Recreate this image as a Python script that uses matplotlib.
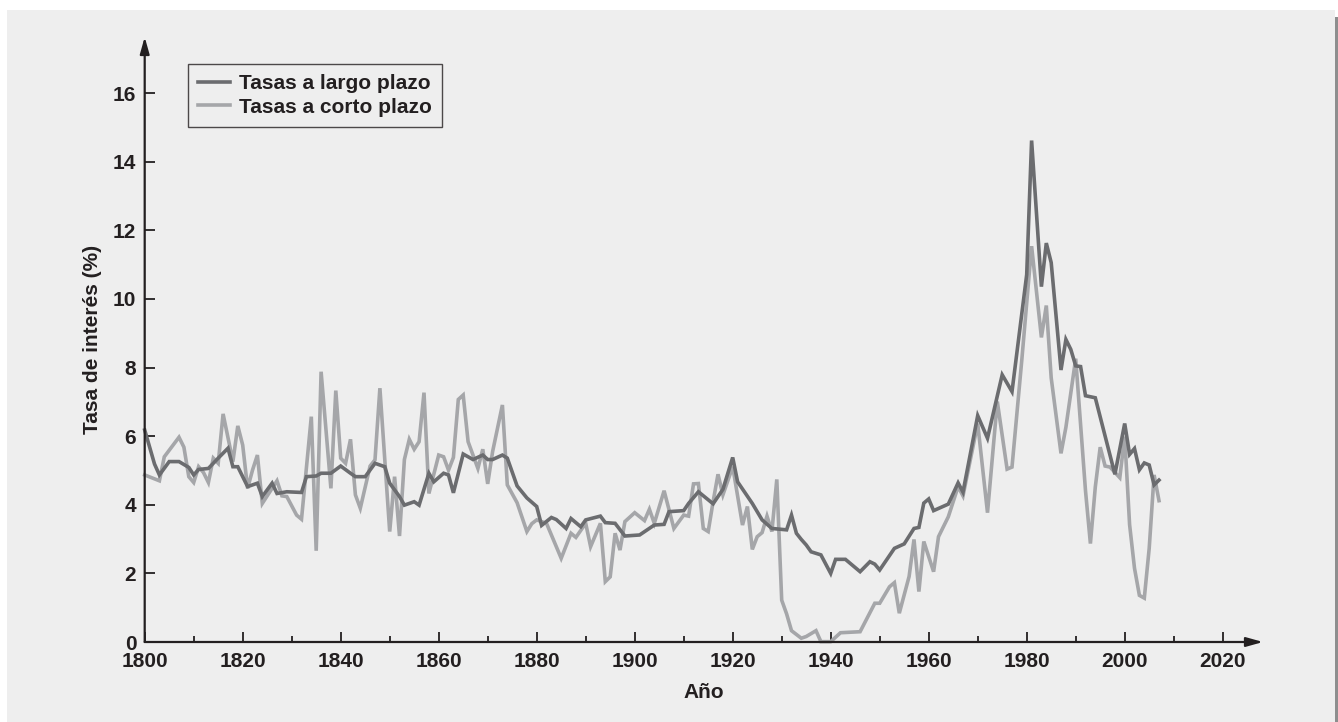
import matplotlib
matplotlib.use('Agg')
import matplotlib.pyplot as plt
from matplotlib.patches import Rectangle

# data (annual, %)
long_years = [1800, 1802, 1803, 1805, 1807, 1809, 1810, 1811, 1813, 1815, 1817, 1818, 1819,
              1821, 1823, 1824, 1826, 1827, 1829, 1832, 1833, 1835, 1836, 1838, 1840, 1842,
              1843, 1845, 1847, 1849, 1850, 1852, 1853, 1855, 1856, 1858, 1859, 1861, 1862,
              1863, 1865, 1867, 1869, 1870, 1871, 1873, 1874, 1876, 1878, 1880, 1881, 1883,
              1884, 1886, 1887, 1889, 1890, 1893, 1894, 1896, 1898, 1901, 1904, 1906, 1907,
              1910, 1911, 1913, 1916, 1918, 1920, 1921, 1924, 1926, 1928, 1931, 1932, 1933,
              1934, 1935, 1936, 1938, 1940, 1941, 1943, 1946, 1948, 1949, 1950, 1953, 1955,
              1957, 1958, 1959, 1960, 1961, 1964, 1966, 1967, 1970, 1972, 1975, 1977, 1980,
              1981, 1983, 1984, 1985, 1987, 1988, 1989, 1990, 1991, 1992, 1994, 1998, 2000,
              2001, 2002, 2003, 2004, 2005, 2006, 2007]
long_rates = [6.18, 5.19, 4.87, 5.26, 5.26, 5.09, 4.87, 5.03, 5.06, 5.36, 5.65, 5.11, 5.11,
              4.53, 4.63, 4.24, 4.63, 4.33, 4.38, 4.36, 4.82, 4.84, 4.92, 4.92, 5.13, 4.92,
              4.82, 4.82, 5.21, 5.11, 4.63, 4.24, 3.99, 4.09, 3.99, 4.92, 4.67, 4.92, 4.87,
              4.35, 5.48, 5.32, 5.45, 5.32, 5.32, 5.45, 5.36, 4.55, 4.20, 3.95, 3.40, 3.63,
              3.57, 3.31, 3.60, 3.36, 3.56, 3.67, 3.48, 3.46, 3.09, 3.12, 3.41, 3.43, 3.80,
              3.83, 4.04, 4.38, 4.03, 4.45, 5.38, 4.67, 4.04, 3.56, 3.31, 3.27, 3.70, 3.17,
              2.99, 2.83, 2.63, 2.54, 2.00, 2.41, 2.41, 2.05, 2.34, 2.27, 2.10, 2.73, 2.86,
              3.31, 3.34, 4.05, 4.17, 3.83, 4.02, 4.64, 4.37, 6.60, 5.94, 7.79, 7.30, 10.71,
              14.62, 10.36, 11.63, 11.06, 7.93, 8.82, 8.53, 8.05, 8.03, 7.18, 7.12, 4.89, 6.37,
              5.47, 5.64, 5.02, 5.22, 5.16, 4.58, 4.72]

short_years = [1800, 1803, 1804, 1807, 1808, 1809, 1810, 1811, 1812, 1813, 1814, 1815, 1816,
               1818, 1819, 1820, 1821, 1822, 1823, 1824, 1827, 1828, 1829, 1831, 1832, 1834,
               1835, 1836, 1838, 1839, 1840, 1841, 1842, 1843, 1844, 1846, 1847, 1848, 1850,
               1851, 1852, 1853, 1854, 1855, 1856, 1857, 1858, 1860, 1861, 1862, 1863, 1864,
               1865, 1866, 1868, 1869, 1870, 1871, 1873, 1874, 1876, 1878, 1879, 1880, 1882,
               1885, 1887, 1888, 1890, 1891, 1893, 1894, 1895, 1896, 1897, 1898, 1900, 1902,
               1903, 1904, 1906, 1908, 1910, 1911, 1912, 1913, 1914, 1915, 1916, 1917, 1918,
               1920, 1922, 1923, 1924, 1925, 1926, 1927, 1928, 1929, 1930, 1931, 1932, 1934,
               1935, 1937, 1938, 1940, 1942, 1946, 1949, 1950, 1952, 1953, 1954, 1956, 1957,
               1958, 1959, 1961, 1962, 1964, 1966, 1967, 1970, 1972, 1974, 1976, 1977, 1979,
               1981, 1983, 1984, 1985, 1987, 1988, 1990, 1992, 1993, 1994, 1995, 1996, 1997,
               1999, 2000, 2001, 2002, 2003, 2004, 2005, 2006, 2007]
short_rates = [4.87, 4.70, 5.40, 5.97, 5.68, 4.82, 4.65, 5.11, 4.94, 4.65, 5.36, 5.21, 6.65,
               5.26, 6.30, 5.74, 4.48, 5.01, 5.45, 4.04, 4.70, 4.26, 4.24, 3.70, 3.58, 6.57,
               2.66, 7.88, 4.48, 7.33, 5.36, 5.21, 5.91, 4.29, 3.90, 5.13, 5.31, 7.40, 3.22,
               4.82, 3.09, 5.32, 5.91, 5.62, 5.84, 7.27, 4.33, 5.45, 5.40, 5.01, 5.38, 7.07,
               7.20, 5.84, 5.06, 5.62, 4.61, 5.55, 6.91, 4.58, 4.06, 3.22, 3.45, 3.56, 3.46,
               2.44, 3.17, 3.05, 3.46, 2.78, 3.46, 1.76, 1.90, 3.17, 2.68, 3.51, 3.77, 3.54,
               3.87, 3.46, 4.41, 3.31, 3.70, 3.67, 4.61, 4.62, 3.31, 3.22, 4.09, 4.89, 4.29,
               5.11, 3.41, 3.95, 2.70, 3.07, 3.19, 3.67, 3.22, 4.74, 1.22, 0.82, 0.33, 0.11,
               0.16, 0.33, 0.01, 0.01, 0.27, 0.30, 1.13, 1.13, 1.61, 1.73, 0.84, 1.91, 2.99,
               1.47, 2.93, 2.05, 3.07, 3.65, 4.53, 4.26, 6.37, 3.77, 7.01, 5.04, 5.10, 8.22,
               11.54, 8.88, 9.81, 7.70, 5.50, 6.26, 8.26, 4.41, 2.87, 4.52, 5.68, 5.13, 5.10,
               4.79, 5.99, 3.42, 2.15, 1.36, 1.28, 2.73, 4.87, 4.12]

x_ticks = list(range(1800, 2021, 20))
y_ticks = list(range(0, 17, 2))

DARK = '#6b6c6f'
LIGHT = '#a5a6a9'
INK = '#231f20'
BG = '#eeeeee'
FONT = ['Liberation Sans Narrow', 'Liberation Sans', 'DejaVu Sans']

plt.rcParams['font.family'] = FONT
plt.rcParams['font.weight'] = 'bold'

fig = plt.figure(figsize=(13.38, 7.22), dpi=100, facecolor='white')
# grey panel with darker strip on the right
fig.patches.append(Rectangle((7 / 1338, 0), 1328 / 1338, 712 / 722, transform=fig.transFigure,
                             facecolor=BG, edgecolor='none', zorder=-5))
fig.patches.append(Rectangle((1335 / 1338, 0), 3 / 1338, 705 / 722, transform=fig.transFigure,
                             facecolor='#8e8e8e', edgecolor='none', zorder=-5))

ax = fig.add_axes([144.7 / 1338, 80 / 722, (1263 - 144.7) / 1338, (642 - 37) / 722])
ax.set_facecolor('none')
ax.set_xlim(1800, 1800 + (1263 - 144.7) / 4.9)
ax.set_ylim(0, (642 - 37) / 34.3)

ax.plot(short_years, short_rates, color=LIGHT, lw=2.6, solid_joinstyle='miter',
        label='Tasas a corto plazo', zorder=2, clip_on=False)
ax.plot(long_years, long_rates, color=DARK, lw=2.6, solid_joinstyle='miter',
        label='Tasas a largo plazo', zorder=3, clip_on=False)

for s in ax.spines.values():
    s.set_visible(False)
# axes with arrow heads
ax.annotate('', xy=(1, 0), xytext=(0, 0), xycoords='axes fraction',
            arrowprops=dict(arrowstyle='-|>,head_length=1.0,head_width=0.28', color=INK, lw=1.6,
                            shrinkA=0, shrinkB=0))
ax.annotate('', xy=(0, 1), xytext=(0, 0), xycoords='axes fraction',
            arrowprops=dict(arrowstyle='-|>,head_length=1.0,head_width=0.28', color=INK, lw=1.6,
                            shrinkA=0, shrinkB=0))

ax.set_xticks(x_ticks)
ax.set_xticks(list(range(1810, 2021, 20)), minor=True)
ax.set_yticks(y_ticks)
ax.tick_params(axis='both', which='major', direction='in', length=7.5, width=1.3, color=INK,
               labelsize=15, labelcolor=INK, pad=6)
ax.tick_params(axis='x', which='major', pad=7.5)
ax.tick_params(axis='x', which='minor', direction='in', length=4.5, width=1.3, color=INK)
ax.tick_params(axis='y', which='minor', left=False)

ax.set_xlabel('Año', fontsize=15, fontweight='bold', color=INK, labelpad=8)
ax.set_ylabel('Tasa de interés (%)', fontsize=15, fontweight='bold', color=INK, labelpad=8)

handles, labels = ax.get_legend_handles_labels()
leg = ax.legend(handles[::-1], labels[::-1], loc='upper left',
                bbox_to_anchor=(188 / 1338, 1 - 64 / 722), bbox_transform=fig.transFigure,
                borderaxespad=0, frameon=True, fancybox=False, fontsize=15,
                handlelength=1.5, handletextpad=0.45, labelspacing=0.2, borderpad=0.5)
leg.get_frame().set_edgecolor(INK)
leg.get_frame().set_facecolor(BG)
leg.get_frame().set_linewidth(1.0)
for t in leg.get_texts():
    t.set_color(INK)
    t.set_fontweight('bold')

fig.savefig('out.png', dpi=100, facecolor='white')
